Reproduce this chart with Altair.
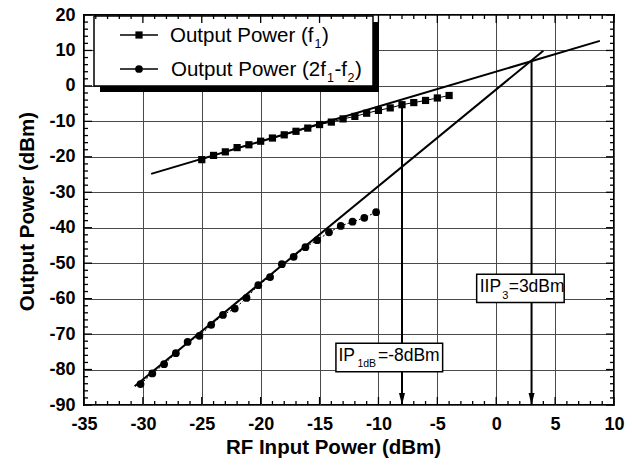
import altair as alt
import pandas as pd

FONT = "Liberation Sans, Arial, Helvetica, sans-serif"

# ---------------- data ----------------
f1_in = [-25, -24, -23, -22, -21, -20, -19, -18, -17, -16, -15,
         -14, -13, -12, -11, -10, -9, -8, -7, -6, -5, -4]
f1_out = [-20.8, -19.6, -18.6, -17.4, -16.6, -15.6, -14.7, -13.8, -12.8, -11.9, -10.9,
          -10.2, -9.3, -8.6, -7.7, -6.9, -6.2, -5.3, -4.7, -4.1, -3.4, -2.7]

im3_in = [-30.2, -29.2, -28.2, -27.2, -26.2, -25.2, -24.2, -23.2, -22.2, -21.2, -20.2,
          -19.2, -18.2, -17.2, -16.2, -15.2, -14.2, -13.2, -12.2, -11.2, -10.2]
im3_out = [-84.1, -81.1, -78.5, -75.4, -72.2, -70.5, -67.4, -64.6, -62.8, -59.8, -56.2,
           -53.9, -50.3, -48.2, -45.5, -43.5, -41.3, -39.5, -38.3, -37.2, -35.6]

fit_f1_in = [-29.3, 8.8]
fit_f1_out = [-24.8, 12.7]
fit_im3_in = [-30.7, 4.0]
fit_im3_out = [-84.7, 9.9]

arrow_in = [-8, 3]
arrow_top = [-5.3, 7.1]
arrow_bottom = [-90, -90]

x_labels = [-35, -30, -25, -20, -15, -10, -5, 0, 5, 10]
y_labels = [-90, -80, -70, -60, -50, -40, -30, -20, -10, 0, 10, 20]
x_minor = [-34, -33, -32, -31, -29, -28, -27, -26, -24, -23, -22, -21, -19, -18, -17, -16,
           -14, -13, -12, -11, -9, -8, -7, -6, -4, -3, -2, -1, 1, 2, 3, 4, 6, 7, 8, 9]
y_minor = [-88, -86, -84, -82, -78, -76, -74, -72, -68, -66, -64, -62, -58, -56, -54, -52,
           -48, -46, -44, -42, -38, -36, -34, -32, -28, -26, -24, -22, -18, -16, -14, -12,
           -8, -6, -4, -2, 2, 4, 6, 8, 12, 14, 16, 18]

x_title = "RF Input Power (dBm)"
y_title = "Output Power (dBm)"

# annotation boxes (data coordinates): x1, x2, y1, y2
iip3_box = [-1.66, 5.77, -53.1, -61.1]
ip1db_box = [-13.61, -4.55, -72.6, -80.6]

W, H = 530, 390

xs = alt.Scale(domain=[-35, 10], nice=False, zero=False)
ys = alt.Scale(domain=[-90, 20], nice=False, zero=False)

x_axis = alt.Axis(values=x_labels, labelExpr="datum.value + ''", grid=True,
                  gridColor="#4a4a4a", gridWidth=1, ticks=False, tickSize=0, domain=False,
                  labelFont=FONT, labelFontSize=18, labelFontWeight="bold", labelColor="black",
                  labelPadding=10, labelFlush=False, labelOverlap=False,
                  title=x_title, titleFont=FONT, titleFontSize=20.5, titleFontWeight="bold",
                  titleColor="black", titleX=249, titleY=48, titleBaseline="alphabetic",
                  titleAlign="center")
y_axis = alt.Axis(values=y_labels, labelExpr="datum.value + ''", grid=True,
                  gridColor="#4a4a4a", gridWidth=1, ticks=False, tickSize=0, domain=False,
                  labelFont=FONT, labelFontSize=18, labelFontWeight="bold", labelColor="black",
                  labelPadding=9, labelFlush=False, labelOverlap=False,
                  title=y_title, titleFont=FONT, titleFontSize=20.5, titleFontWeight="bold",
                  titleColor="black", titleAngle=270, titleX=-51, titleY=196,
                  titleBaseline="alphabetic", titleAlign="center")


def X(f="x"):
    return alt.X(f"{f}:Q", scale=xs, axis=x_axis)


def Y(f="y"):
    return alt.Y(f"{f}:Q", scale=ys, axis=y_axis)


layers = []

fit_f1 = pd.DataFrame({"x": fit_f1_in, "y": fit_f1_out})
layers.append(alt.Chart(fit_f1).mark_line(color="black", strokeWidth=2).encode(x=X(), y=Y()))

fit_im3 = pd.DataFrame({"x": fit_im3_in, "y": fit_im3_out})
layers.append(alt.Chart(fit_im3).mark_line(color="black", strokeWidth=2).encode(x=X(), y=Y()))

# measured data
df_f1 = pd.DataFrame({"x": f1_in, "y": f1_out})
df_im3 = pd.DataFrame({"x": im3_in, "y": im3_out})
layers.append(alt.Chart(df_f1).mark_line(color="black", strokeWidth=1).encode(x=X(), y=Y()))
layers.append(alt.Chart(df_f1).mark_point(shape="square", filled=True, size=52, color="black",
                                          opacity=1).encode(x=X(), y=Y()))
layers.append(alt.Chart(df_im3).mark_line(color="black", strokeWidth=1, strokeDash=[2, 2]).encode(x=X(), y=Y()))
layers.append(alt.Chart(df_im3).mark_point(shape="circle", filled=True, size=60, color="black",
                                           opacity=1).encode(x=X(), y=Y()))

# arrows
df_arrow = pd.DataFrame({"x": arrow_in, "y": arrow_top, "y2": arrow_bottom})
layers.append(alt.Chart(df_arrow).mark_rule(color="black", strokeWidth=2).encode(
    x=X(), y=Y(), y2="y2:Q"))
layers.append(alt.Chart(df_arrow).mark_point(shape="M-0.5,-2L0.5,-2L0,0Z", filled=True, size=144,
                                             color="black", opacity=1).encode(x=X(), y=Y("y2")))

# annotation boxes
df_boxes = pd.DataFrame({"x": [iip3_box[0], ip1db_box[0]], "x2": [iip3_box[1], ip1db_box[1]],
                         "y": [iip3_box[2], ip1db_box[2]], "y2": [iip3_box[3], ip1db_box[3]]})
layers.append(alt.Chart(df_boxes).mark_rect(fill="white", stroke="black", strokeWidth=1.5).encode(
    x=X(), x2="x2:Q", y=Y(), y2="y2:Q"))


def ann(box, s, dx, dy, fs):
    d = pd.DataFrame({"x": [box[0]], "y": [box[2]], "t": [s]})
    return alt.Chart(d).mark_text(align="left", baseline="alphabetic", dx=dx, dy=dy, font=FONT,
                                  fontSize=fs, color="black").encode(x=X(), y=Y(), text="t:N")


layers += [
    ann(iip3_box, "IIP", 3, 18.3, 17.5),
    ann(iip3_box, "3", 25.5, 24.5, 11),
    ann(iip3_box, "=3dBm", 32, 18.3, 17.5),
    ann(ip1db_box, "IP", 2.5, 17.6, 17.5),
    ann(ip1db_box, "1dB", 21.5, 23.5, 10.5),
    ann(ip1db_box, "=-8dBm", 42, 17.6, 17.5),
]

# legend (pixel positions inside the plot)
one = pd.DataFrame({"t": [""]})
layers.append(alt.Chart(one).mark_rect(fill="black").encode(
    x=alt.value(16), x2=alt.value(295), y=alt.value(7), y2=alt.value(77)))
layers.append(alt.Chart(one).mark_rect(fill="white", stroke="black", strokeWidth=1.5).encode(
    x=alt.value(10), x2=alt.value(289), y=alt.value(1), y2=alt.value(71)))

leg_rows = [20, 54]
for ry, shp, sz in [(leg_rows[0], "square", 52), (leg_rows[1], "circle", 60)]:
    layers.append(alt.Chart(one).mark_rule(color="black", strokeWidth=1.5).encode(
        x=alt.value(36), x2=alt.value(74), y=alt.value(ry)))
    layers.append(alt.Chart(one).mark_point(shape=shp, filled=True, size=sz, color="black",
                                            opacity=1).encode(x=alt.value(55), y=alt.value(ry)))


def ltxt(s, px, py, fs):
    d = pd.DataFrame({"t": [s]})
    return alt.Chart(d).mark_text(align="left", baseline="alphabetic", font=FONT, fontSize=fs,
                                  color="black").encode(x=alt.value(px), y=alt.value(py), text="t:N")


r1, r2 = leg_rows[0] + 7, leg_rows[1] + 7
layers += [
    ltxt("Output Power (f", 86, r1, 20.5),
    ltxt("1", 230.5, r1 + 6, 12.5),
    ltxt(")", 238, r1, 20.5),
    ltxt("Output Power (2f", 87, r2, 20.5),
    ltxt("1", 243, r2 + 6, 12.5),
    ltxt("-f", 250.5, r2, 20.5),
    ltxt("2", 263.5, r2 + 6, 12.5),
    ltxt(")", 271, r2, 20.5),
]


# inward ticks on all four sides
def xticks(vals, length):
    d = pd.DataFrame({"x": vals})
    b = alt.Chart(d).mark_rule(color="black", strokeWidth=1.3)
    return [b.encode(x=X(), y=alt.value(H), y2=alt.value(H - length)),
            b.encode(x=X(), y=alt.value(0), y2=alt.value(length))]


def yticks(vals, length):
    d = pd.DataFrame({"y": vals})
    b = alt.Chart(d).mark_rule(color="black", strokeWidth=1.3)
    return [b.encode(y=Y(), x=alt.value(0), x2=alt.value(length)),
            b.encode(y=Y(), x=alt.value(W), x2=alt.value(W - length))]


layers += xticks(x_labels, 8) + xticks(x_minor, 4) + yticks(y_labels, 8) + yticks(y_minor, 4)

chart = alt.layer(*layers).properties(
    width=W, height=H,
    autosize=alt.AutoSizeParams(type="none"),
    padding={"left": 84, "top": 15, "right": 18, "bottom": 60},
    background="white",
).configure_view(stroke="black", strokeWidth=2)

chart.save("out.html", embed_options={"renderer": "svg", "actions": False})
